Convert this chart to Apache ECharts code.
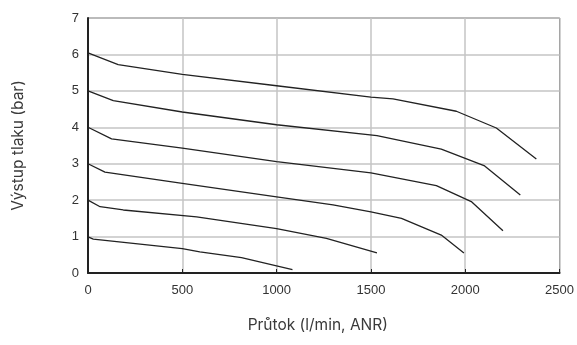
<!DOCTYPE html>
<html>
<head>
<meta charset="utf-8">
<script src="https://cdn.jsdelivr.net/npm/echarts@6/dist/echarts.min.js"></script>
<style>
  html, body { margin: 0; padding: 0; background: #fff; }
  #chart { width: 577px; height: 345px; }
</style>
</head>
<body>
<div id="chart"></div>
<script>
// flow (l/min, ANR) vs output pressure (bar), one curve per set pressure
const curve6 = [[0, 6.04], [160, 5.72], [500, 5.45], [1000, 5.14], [1500, 4.83], [1617, 4.78], [1953, 4.44], [2165, 3.98], [2377, 3.13]]
const curve5 = [[0, 5.0], [134, 4.73], [500, 4.42], [1000, 4.07], [1532, 3.77], [1873, 3.40], [2103, 2.94], [2292, 2.14]]
const curve4 = [[0, 4.0], [125, 3.68], [500, 3.43], [1000, 3.06], [1500, 2.75], [1847, 2.40], [2032, 1.96], [2200, 1.16]]
const curve3 = [[0, 3.0], [90, 2.77], [500, 2.46], [1000, 2.09], [1299, 1.87], [1500, 1.68], [1662, 1.50], [1873, 1.04], [1993, 0.55]]
const curve2 = [[0, 2.0], [64, 1.82], [187, 1.73], [576, 1.54], [1000, 1.22], [1264, 0.95], [1532, 0.55]]
const curve1 = [[0, 0.99], [28, 0.93], [500, 0.67], [593, 0.58], [814, 0.42], [1084, 0.09]]

const curves = [curve6, curve5, curve4, curve3, curve2, curve1]

const chart = echarts.init(document.getElementById('chart'))

const tickFont = { color: '#333', fontSize: 13, fontFamily: 'Liberation Sans, Arial, sans-serif' }
const nameFont = { color: '#3a3a3a', fontSize: 15.5, fontFamily: 'Inter, Roboto, sans-serif' }

chart.setOption({
  animation: false,
  grid: {
    left: 88, right: 17, top: 18, bottom: 72,
    show: true, borderColor: '#444', borderWidth: 1
  },
  xAxis: {
    type: 'value',
    min: 0, max: 2500, interval: 500,
    name: 'Průtok (l/min, ANR)',
    nameLocation: 'middle',
    nameGap: 44,
    nameTextStyle: { ...nameFont, padding: [0, 12, 0, 0] },
    axisLine: { show: true, lineStyle: { color: '#222', width: 2 } },
    axisTick: { show: true, inside: true, length: 4, lineStyle: { color: '#222' } },
    axisLabel: { ...tickFont, margin: 11, formatter: (v) => String(v) },
    splitLine: { show: true, lineStyle: { color: '#c4c4c4', width: 1.5 } }
  },
  yAxis: {
    type: 'value',
    min: 0, max: 7, interval: 1,
    name: 'Výstup tlaku (bar)',
    nameLocation: 'middle',
    nameGap: 62,
    nameTextStyle: nameFont,
    axisLine: { show: true, lineStyle: { color: '#222', width: 2 } },
    axisTick: { show: false },
    axisLabel: { ...tickFont, margin: 9 },
    splitLine: { show: true, lineStyle: { color: '#c4c4c4', width: 1.5 } }
  },
  series: curves.map((d) => ({
    type: 'line',
    data: d,
    showSymbol: false,
    symbol: 'none',
    lineStyle: { color: '#222', width: 1.3 }
  }))
})
</script>
</body>
</html>
